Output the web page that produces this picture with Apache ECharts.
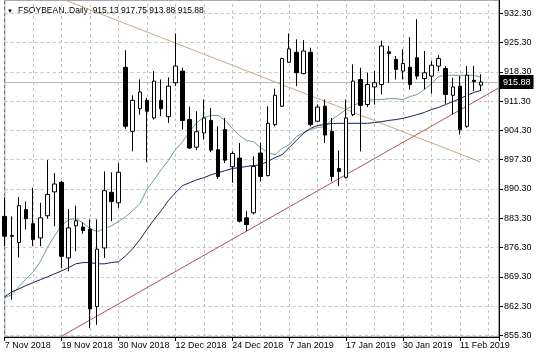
<!DOCTYPE html>
<html><head><meta charset="utf-8">
<script src="https://cdn.jsdelivr.net/npm/echarts@6/dist/echarts.min.js"></script>
<style>html,body{margin:0;padding:0;background:#fff}#c{width:536px;height:358px}</style>
</head><body><div id="c"></div>
<script>
// ---- data ----
const symbolName = 'FSOYBEAN..Daily';
const dateLabels = ['7 Nov 2018','19 Nov 2018','30 Nov 2018','12 Dec 2018','24 Dec 2018','7 Jan 2019','17 Jan 2019','30 Jan 2019','11 Feb 2019'];
const priceTicks = [855.3,862.3,869.3,876.3,883.3,890.3,897.3,904.3,911.3,918.3,925.3,932.3];
const open  = [883.75,879.2,877.5,885.4,882.0,878.6,883.9,889.6,891.9,873.8,881.5,881.2,880.7,862.2,876.2,889.5,887.0,919.4,904.1,909.5,911.5,907.3,911.5,907.6,915.7,918.5,906.9,900.3,903.7,906.7,899.7,904.5,895.6,897.7,883.4,884.6,898.9,893.5,905.7,910.1,920.6,923.0,917.9,923.0,906.5,910.1,904.1,895.2,893.1,908.1,916.5,910.5,914.7,915.3,923.1,921.3,918.5,919.4,921.7,916.7,917.3,919.7,919.1,912.7,914.9,905.3,916.3,915.13];
const high  = [888.3,883.75,888.4,887.3,890.6,887.0,897.2,894.1,892.2,885.5,886.3,882.3,883.0,883.0,894.5,894.3,896.5,923.5,912.7,916.5,912.1,918.5,916.5,917.0,927.5,919.3,910.0,908.9,911.7,909.7,905.3,907.3,899.3,901.3,885.0,898.1,901.3,910.1,914.3,921.7,927.5,926.1,925.9,924.1,910.5,911.7,907.3,899.5,911.7,920.1,919.3,918.1,918.5,925.8,924.5,922.1,923.7,926.6,930.9,923.3,920.9,922.3,919.7,916.9,917.3,919.7,919.7,917.75];
const low   = [876.6,863.8,873.9,880.6,876.7,876.6,883.2,881.4,871.4,870.6,875.4,879.6,857.0,857.8,873.8,882.6,885.8,904.7,899.3,908.1,896.7,906.9,907.7,906.1,914.9,904.5,899.9,899.6,902.1,899.1,892.7,896.5,891.8,882.3,880.2,884.2,892.1,893.3,905.3,910.0,920.5,914.9,917.7,905.3,906.3,901.3,892.1,891.0,892.8,907.7,899.3,909.9,910.5,912.9,915.7,916.5,916.5,914.1,916.5,914.1,913.1,918.5,910.7,908.1,903.3,904.9,913.7,913.88];
const close = [879.0,879.0,886.3,883.2,878.2,883.4,889.0,891.5,874.2,881.0,882.7,880.4,861.6,875.9,889.9,887.3,894.3,905.3,911.5,913.5,908.9,916.1,909.5,914.9,919.7,906.7,900.1,904.0,907.3,899.6,893.3,897.2,898.8,882.6,881.8,895.7,893.3,906.0,912.7,921.5,923.8,918.1,923.3,905.7,909.9,903.2,893.3,894.5,907.3,916.1,910.3,915.3,915.7,924.5,922.7,918.9,920.3,915.3,917.3,918.1,919.9,921.5,912.9,914.7,904.5,917.5,916.0,915.88];
const maFast = [864.3,865.0,866.9,868.8,870.5,872.9,876.3,879.1,881.5,883.0,883.2,882.2,880.8,880.1,880.8,881.5,882.5,883.7,885.1,886.8,890.2,892.5,894.9,897.1,899.7,901.6,904.0,906.2,907.4,907.9,907.9,906.7,904.8,903.1,901.9,901.6,900.2,899.0,898.5,900.0,900.9,902.8,903.8,904.5,905.0,905.2,906.9,908.1,909.3,910.3,911.0,911.5,911.7,911.7,911.9,911.9,911.7,912.4,912.9,914.1,915.5,917.2,917.5,917.5,917.5,917.5,917.5,917.0];
const maSlow = [864.5,865.7,866.4,867.2,867.9,868.6,869.3,870.0,870.7,871.5,872.4,872.7,872.7,872.4,872.4,872.7,872.9,874.3,876.0,878.2,880.6,883.0,885.1,887.5,889.4,891.1,891.8,892.5,893.0,893.7,894.2,894.7,895.2,895.4,895.7,895.9,896.1,896.9,897.8,898.5,900.2,901.9,903.6,904.8,905.5,905.7,906.0,906.0,906.0,906.0,906.0,906.0,906.2,906.4,906.7,906.9,907.2,907.6,908.1,908.6,909.3,909.8,910.5,911.2,911.9,912.7,913.4,913.9];
const trendDown = [[8, 935.8], [66.85, 896.8]];
const trendUp = [[7.9, 855.0], [69.5, 914.5]];
const vGridBars = [0,4,8,12,16,20,24,28,32,36,40,44,48,52,56,60,64,68];

// ---- chart ----
const last = open.length - 1;
const lastPrice = close[last];
const headerText = symbolName + '  ' + [open[last], high[last], low[last], close[last]].map(v => v.toFixed(2)).join(' ');
const font = 'Liberation Sans';
const chart = echarts.init(document.getElementById('c'), null, {renderer: 'canvas'});
chart.setOption({
  animation: false,
  backgroundColor: '#fff',
  grid: {left: 4.7, right: 37, top: 0, bottom: 21, show: true, borderColor: '#555', borderWidth: 1, backgroundColor: 'transparent'},
  xAxis: {
    type: 'value', min: 0, max: 69.5, interval: 8,
    axisLine: {onZero: false, lineStyle: {color: '#000', width: 1}},
    axisTick: {show: true, length: 4, lineStyle: {color: '#000'}},
    axisLabel: {align: 'left', margin: 4, fontSize: 9, fontFamily: font, color: '#000',
      formatter: v => (v % 8 === 0 && dateLabels[v / 8]) ? dateLabels[v / 8] : ''},
    splitLine: {show: false}
  },
  yAxis: {
    type: 'value', position: 'right', min: 854.9, max: 935.5,
    axisLine: {show: true, onZero: false, lineStyle: {color: '#000', width: 1}},
    axisTick: {show: true, length: 4, customValues: priceTicks, lineStyle: {color: '#000'}},
    axisLabel: {customValues: priceTicks, formatter: v => v.toFixed(2), margin: 5, fontSize: 9, fontFamily: font, color: '#000'},
    splitLine: {show: false}
  },
  graphic: [
    {type: 'text', left: 7, top: 8, style: {text: '▼', fontSize: 6, fill: '#000'}},
    {type: 'text', left: 18, top: 6, style: {text: headerText, fontSize: 8.5, fontFamily: font, fill: '#000'}}
  ],
  series: [
    {type: 'line', data: [], silent: true, z: 1,
     markLine: {silent: true, symbol: 'none', animation: false, z: 1, label: {show: false},
       lineStyle: {color: '#c4c4c4', type: [3, 3], width: 1},
       data: priceTicks.map(v => ({yAxis: v})).concat(vGridBars.map(v => ({xAxis: v})))}},
    {type: 'line', data: trendDown, showSymbol: false, silent: true, z: 3, lineStyle: {color: '#c4aa86', width: 1}},
    {type: 'line', data: trendUp, showSymbol: false, silent: true, z: 3, lineStyle: {color: '#a8545c', width: 1}},
    {type: 'line', data: maFast.map((v, i) => [i, v]), showSymbol: false, silent: true, z: 4, lineStyle: {color: '#6aa08e', width: 1}},
    {type: 'line', data: maSlow.map((v, i) => [i, v]), showSymbol: false, silent: true, z: 4, lineStyle: {color: '#1e1e5c', width: 1}},
    {type: 'candlestick', z: 10, barWidth: 4,
     data: open.map((o, i) => [i, o, close[i], low[i], high[i]]),
     encode: {x: 0, y: [1, 2, 3, 4]},
     itemStyle: {color: '#fff', color0: '#000', borderColor: '#000', borderColor0: '#000', borderWidth: 1},
     markLine: {silent: true, symbol: 'none', animation: false, z: 2,
       lineStyle: {color: '#b8b8b8', type: 'solid', width: 1},
       label: {show: true, position: 'end', distance: 1, formatter: lastPrice.toFixed(2), backgroundColor: '#000', color: '#fff',
         padding: [3, 3, 2, 3], fontSize: 9, fontFamily: font},
       data: [{yAxis: lastPrice}]}}
  ]
});
</script></body></html>
